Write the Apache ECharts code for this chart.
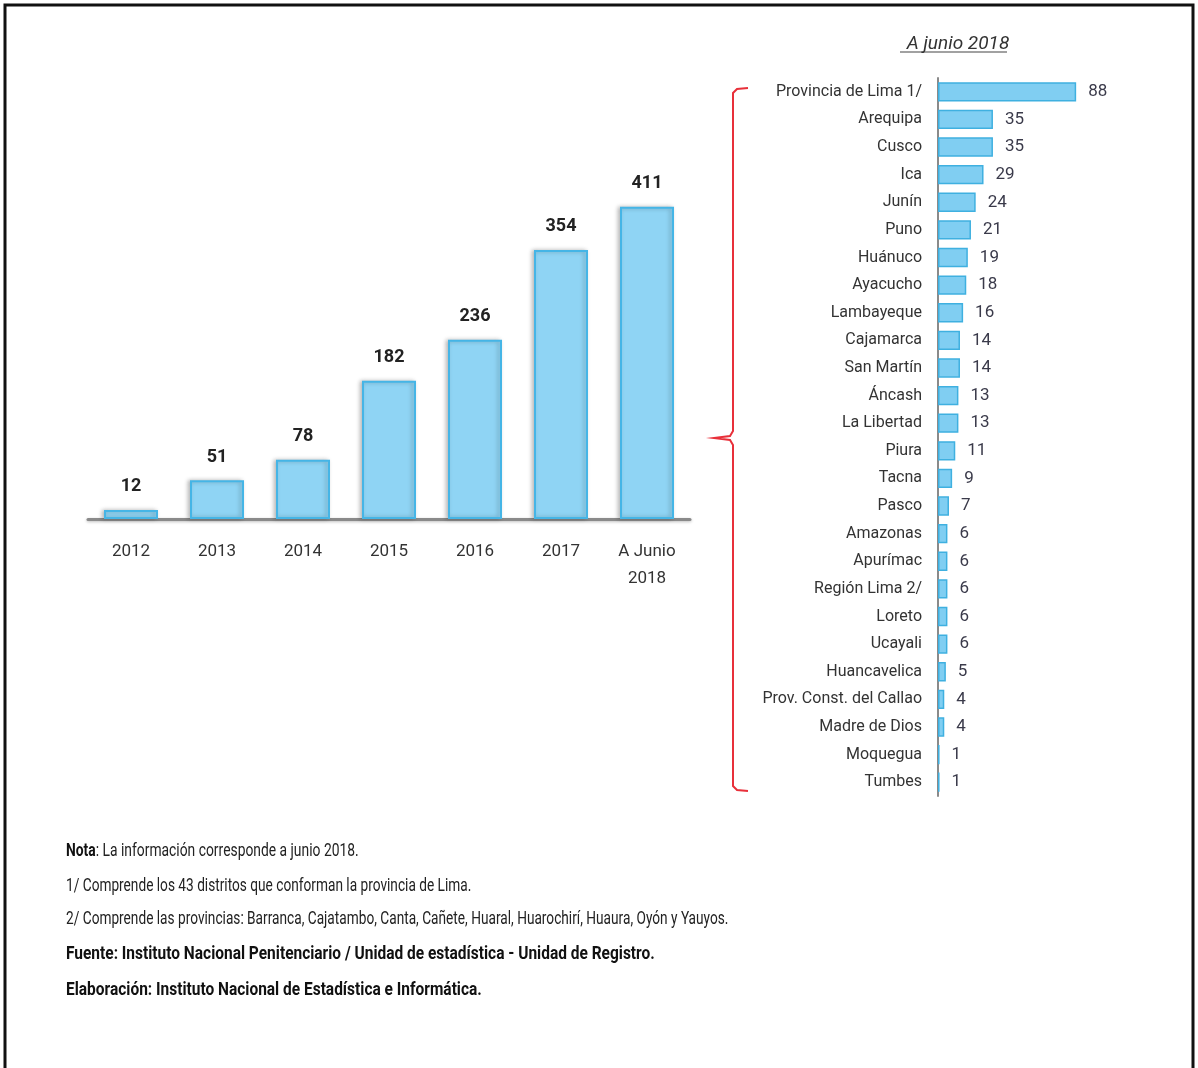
<!DOCTYPE html>
<html>
<head>
<meta charset="utf-8">
<script src="https://cdn.jsdelivr.net/npm/echarts@6/dist/echarts.min.js"></script>
<style>
html,body{margin:0;padding:0;background:#fff;}
#chart{width:1198px;height:1068px;}
</style>
</head>
<body>
<div id="chart"></div>
<script>
// ---- Data ----
const yearCategories = ['2012', '2013', '2014', '2015', '2016', '2017', 'A Junio\n2018'];
const yearValues = [12, 51, 78, 182, 236, 354, 411];

const regionCategories = ['Provincia de Lima 1/', 'Arequipa', 'Cusco', 'Ica', 'Junín', 'Puno', 'Huánuco',
  'Ayacucho', 'Lambayeque', 'Cajamarca', 'San Martín', 'Áncash', 'La Libertad', 'Piura', 'Tacna',
  'Pasco', 'Amazonas', 'Apurímac', 'Región Lima 2/', 'Loreto', 'Ucayali', 'Huancavelica',
  'Prov. Const. del Callao', 'Madre de Dios', 'Moquegua', 'Tumbes'];
const regionValues = [88, 35, 35, 29, 24, 21, 19, 18, 16, 14, 14, 13, 13, 11, 9, 7, 6, 6, 6, 6, 6, 5, 4, 4, 1, 1];

const rightTitle = 'A junio 2018';
const notes = [
  ['Nota', ': La información corresponde a junio 2018.'],
  ['', '1/ Comprende los 43 distritos que conforman la provincia de Lima.'],
  ['', '2/ Comprende las provincias: Barranca, Cajatambo, Canta, Cañete, Huaral, Huarochirí, Huaura, Oyón y Yauyos.'],
  ['Fuente: Instituto Nacional Penitenciario / Unidad de estadística - Unidad de Registro.', ''],
  ['Elaboración: Instituto Nacional de Estadística e Informática.', '']
];

const FONT = 'Roboto, "Liberation Sans", sans-serif';
const noteTops = [842, 877, 910, 945, 981];
const noteScales = [0.77, 0.76, 0.76, 0.86, 0.86];

const chart = echarts.init(document.getElementById('chart'));

const noteGraphics = notes.map((n, i) => ({
  type: 'text',
  left: 66,
  top: noteTops[i],
  scaleX: noteScales[i],
  style: {
    text: (n[0] ? '{b|' + n[0] + '}' : '') + (n[1] ? '{r|' + n[1] + '}' : ''),
    rich: {
      b: { fontFamily: FONT, fontSize: 18, fontWeight: 'bold', fill: '#111' },
      r: { fontFamily: FONT, fontSize: 18, fill: '#222' }
    }
  }
}));

chart.setOption({
  animation: false,
  backgroundColor: '#fff',
  title: {
    text: rightTitle,
    left: 953,
    textAlign: 'center',
    top: 30,
    textStyle: { fontFamily: FONT, fontSize: 19, fontStyle: 'italic', fontWeight: 'normal', color: '#333' }
  },
  grid: [
    { left: 88, right: 508, top: 177, bottom: 549 },
    { left: 938, right: 103, top: 78, bottom: 272 }
  ],
  xAxis: [
    {
      type: 'category', gridIndex: 0, data: yearCategories,
      axisLine: { lineStyle: { color: '#8a8a8a', width: 3, shadowColor: 'rgba(0,0,0,0.25)', shadowBlur: 3, shadowOffsetY: 1 } },
      axisTick: { show: false },
      axisLabel: { fontFamily: FONT, fontSize: 17, color: '#333', margin: 19, lineHeight: 27 }
    },
    { type: 'value', gridIndex: 1, min: 0, max: 100, show: false }
  ],
  yAxis: [
    { type: 'value', gridIndex: 0, min: 0, max: 450, show: false },
    {
      type: 'category', gridIndex: 1, data: regionCategories, inverse: true,
      axisLine: { onZero: false, lineStyle: { color: '#8a8a8a', width: 2 } },
      axisTick: { show: false },
      axisLabel: { fontFamily: FONT, fontSize: 16, color: '#333', margin: 16 }
    }
  ],
  series: [
    {
      type: 'bar', xAxisIndex: 0, yAxisIndex: 0, data: yearValues,
      barWidth: 54,
      itemStyle: { color: '#8fd4f4', borderColor: '#45b5e6', borderWidth: 2,
        shadowColor: 'rgba(0,0,0,0.25)', shadowBlur: 4, shadowOffsetX: -2 },
      label: { show: true, position: 'top', distance: 14, fontFamily: FONT, fontSize: 18, fontWeight: 'bold', color: '#222' }
    },
    {
      type: 'bar', xAxisIndex: 1, yAxisIndex: 1, data: regionValues,
      barCategoryGap: '30%',
      itemStyle: { color: '#80cef2', borderColor: '#3fb0e0', borderWidth: 1.5 },
      label: { show: true, position: 'right', distance: 12, fontFamily: FONT, fontSize: 17, color: '#3a3a4a' }
    }
  ],
  graphic: [
    // outer frame
    { type: 'rect', shape: { x: 5, y: 5, width: 1188, height: 1100 }, style: { fill: 'none', stroke: '#111', lineWidth: 3 }, silent: true },
    // title underline
    { type: 'line', shape: { x1: 900, y1: 52, x2: 1007, y2: 52 }, style: { stroke: '#444', lineWidth: 1.2 }, silent: true },
    // red bracket
    {
      type: 'polyline',
      shape: { points: [[748, 88], [737, 89], [733, 93], [733, 431], [730, 436], [714, 438], [730, 440], [733, 445], [733, 786], [737, 790], [748, 791]] },
      style: { stroke: '#e8303a', lineWidth: 2, fill: 'none' },
      silent: true
    }
  ].concat(noteGraphics)
});
</script>
</body>
</html>
